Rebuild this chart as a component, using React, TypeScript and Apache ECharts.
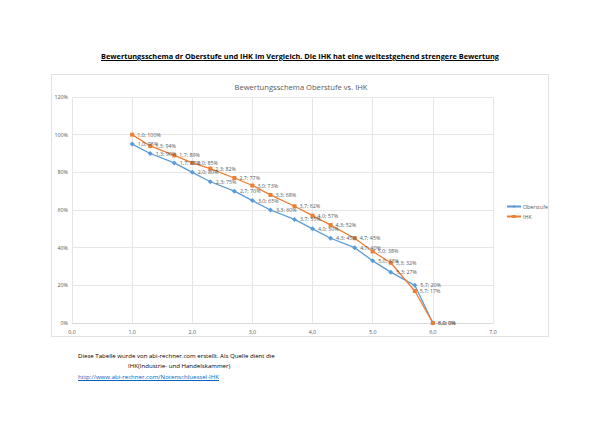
import * as echarts from "echarts";
import { useEffect, useRef } from "react";

const grades = [1.0, 1.3, 1.7, 2.0, 2.3, 2.7, 3.0, 3.3, 3.7, 4.0, 4.3, 4.7, 5.0, 5.3, 5.7, 6.0];
const oberstufe = [95, 90, 85, 80, 75, 70, 65, 60, 55, 50, 45, 40, 33, 27, 20, 0];
const ihk = [100, 94, 89, 85, 82, 77, 73, 68, 62, 57, 52, 45, 38, 32, 17, 0];
const seriesNames = ["Oberstufe", "IHK"];

const fmtGrade = (v: number) => v.toFixed(1).replace(".", ",");

const FONT = "'Open Sans', sans-serif";

const Chart = () => {
  const chartRef = useRef<HTMLDivElement>(null);

  useEffect(() => {
    const chart = echarts.init(chartRef.current!, undefined, { renderer: "svg" });
    const label = {
      show: true,
      position: "right" as const,
      distance: 3,
      fontSize: 5.3,
      color: "#595959",
      fontFamily: FONT,
      formatter: (p: any) => `${fmtGrade(p.value[0])}; ${p.value[1]}%`,
    };
    chart.setOption({
      animation: false,
      textStyle: { fontFamily: FONT },
      title: {
        text: "Bewertungsschema Oberstufe vs. IHK",
        left: 244,
        top: 3,
        textAlign: "center",
        textStyle: { fontSize: 7.6, fontWeight: "normal", color: "#595959", fontFamily: FONT },
      },
      grid: {
        left: 20,
        top: 22,
        width: 421,
        height: 226,
        containLabel: false,
        outerBoundsMode: "none",
      },
      legend: {
        orient: "vertical",
        left: 454,
        top: 129,
        padding: 0,
        itemWidth: 14,
        itemHeight: 4,
        itemGap: 5,
        textStyle: { fontSize: 5.3, color: "#595959", fontFamily: FONT, padding: [0, 0, 0, -3] },
        data: seriesNames,
      },
      xAxis: {
        type: "value",
        min: 0,
        max: 7,
        interval: 1,
        axisLine: { show: true, lineStyle: { color: "#d9d9d9" } },
        axisTick: { show: false },
        splitLine: { show: true, lineStyle: { color: "#e6e6e6", width: 1 } },
        axisLabel: { fontSize: 5.3, color: "#595959", formatter: (v: number) => fmtGrade(v), margin: 6 },
      },
      yAxis: {
        type: "value",
        min: 0,
        max: 120,
        interval: 20,
        axisLine: { show: false },
        axisTick: { show: false },
        splitLine: { show: true, lineStyle: { color: "#e6e6e6", width: 1 } },
        axisLabel: { fontSize: 5.3, color: "#595959", formatter: (v: number) => `${v}%`, margin: 4 },
      },
      series: [
        {
          name: seriesNames[0],
          type: "line",
          data: grades.map((g, i) => [g, oberstufe[i]]),
          symbol: "diamond",
          symbolSize: 5,
          itemStyle: { color: "#5B9BD5" },
          lineStyle: { color: "#5B9BD5", width: 1.3 },
          label,
        },
        {
          name: seriesNames[1],
          type: "line",
          data: grades.map((g, i) => [g, ihk[i]]),
          symbol: "rect",
          symbolSize: 4,
          itemStyle: { color: "#ED7D31" },
          lineStyle: { color: "#ED7D31", width: 1.3 },
          label,
        },
      ],
    });
    return () => chart.dispose();
  }, []);

  return (
    <div
      ref={chartRef}
      style={{
        position: "absolute",
        left: 51,
        top: 74,
        width: 498,
        height: 263,
        border: "1px solid #e2e2e2",
        boxSizing: "border-box",
      }}
    />
  );
};

export default function App() {
  return (
    <div
      style={{
        position: "fixed",
        left: 0,
        top: 0,
        width: 600,
        height: 424,
        background: "#fff",
        fontFamily: FONT,
        color: "#000",
      }}
    >
      <div
        style={{
          position: "absolute",
          left: 0,
          width: 600,
          top: 51,
          textAlign: "center",
          fontSize: 7.35,
          fontWeight: "bold",
          textDecoration: "underline",
          whiteSpace: "nowrap",
        }}
      >
        Bewertungsschema dr Oberstufe und IHK im Vergleich. Die IHK hat eine weitestgehend strengere Bewertung
      </div>
      <Chart />
      <div style={{ position: "absolute", left: 78, top: 351, fontSize: 6.1, whiteSpace: "nowrap" }}>
        Diese Tabelle wurde von abi-rechner.com erstellt. Als Quelle dient die
      </div>
      <div style={{ position: "absolute", left: 128, top: 361, fontSize: 6.1, whiteSpace: "nowrap" }}>
        IHK(Industrie- und Handelskammer)
      </div>
      <div
        style={{
          position: "absolute",
          left: 78,
          top: 372,
          fontSize: 6.1,
          whiteSpace: "nowrap",
          color: "#0563C1",
          textDecoration: "underline",
        }}
      >
        http://www.abi-rechner.com/Notenschluessel-IHK
      </div>
    </div>
  );
}
